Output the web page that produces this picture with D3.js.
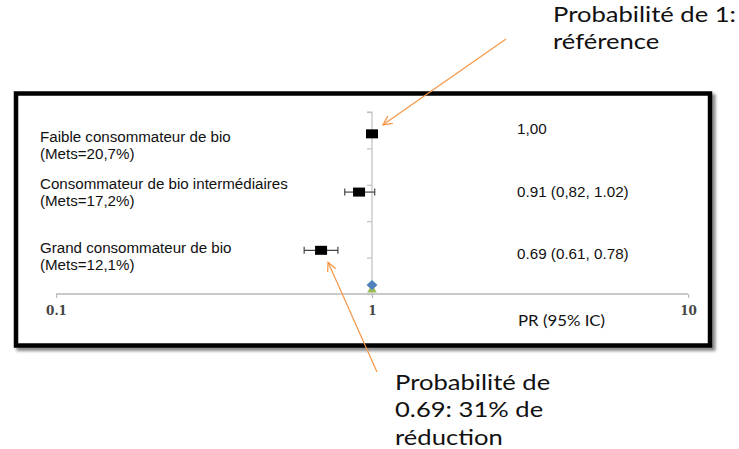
<!DOCTYPE html>
<html>
<head>
<meta charset="utf-8">
<script src="https://cdn.jsdelivr.net/npm/d3@7"></script>
<style>
  body { margin: 0; background: #fff; }
  svg { display: block; }
</style>
</head>
<body>
<svg id="chart"></svg>
<script>
var groups = ["Faible consommateur de bio", "Consommateur de bio intermédiaires", "Grand consommateur de bio"];
var mets = ["(Mets=20,7%)", "(Mets=17,2%)", "(Mets=12,1%)"];
var pr = [1.00, 0.91, 0.69];
var ciLow = [null, 0.82, 0.61];
var ciHigh = [null, 1.02, 0.78];
var rowPos = [4.4, 2.8, 1.2];
var prLabels = ["1,00", "0.91 (0,82, 1.02)", "0.69 (0.61, 0.78)"];
var xTicks = [0.1, 1, 10];
var refPoint = {x: 1, diamond: 0.25, triangle: 0.12};

var width = 739, height = 449;
var orange = "#f79646";

var svg = d3.select('#chart')
	.attr('width', width)
	.attr('height', height);

var defs = svg.append('defs');
var shadow = defs.append('filter').attr('id', 'shadow')
	.attr('x', '-5%').attr('y', '-5%').attr('width', '110%').attr('height', '115%');
shadow.append('feGaussianBlur').attr('stdDeviation', 1.5);

defs.append('marker')
	.attr('id', 'arrow')
	.attr('viewBox', '0 0 10 10')
	.attr('refX', 9).attr('refY', 5)
	.attr('markerWidth', 10).attr('markerHeight', 10)
	.attr('markerUnits', 'userSpaceOnUse')
	.attr('orient', 'auto')
	.append('path')
	.attr('d', 'M0,0.5 L9,5 L0,9.5')
	.attr('fill', 'none')
	.attr('stroke', orange)
	.attr('stroke-width', 1.3);

// the picture's text is stretched sideways, so scale it in x only
function stretched(x, sx){
	return svg.append('g')
		.attr('transform', 'translate(' + x + ',0) scale(' + sx + ',1)')
		.append('text').attr('x', 0);
}

// frame with shadow
svg.append('rect')
	.attr('x', 19).attr('y', 96.5)
	.attr('width', 694).attr('height', 252)
	.attr('fill', 'none')
	.attr('stroke', '#888')
	.attr('stroke-width', 5)
	.attr('filter', 'url(#shadow)');
svg.append('rect')
	.attr('x', 16).attr('y', 93.5)
	.attr('width', 694).attr('height', 252)
	.attr('fill', '#fff')
	.attr('stroke', '#000')
	.attr('stroke-width', 4.5);

var xScale = d3.scaleLog()
	.domain([0.1, 10])
	.range([56, 688]);

var yScale = d3.scaleLinear()
	.domain([0, 5])
	.range([294, 112]);

// x axis
var xAxis = svg.append('g')
	.attr('transform', 'translate(0,' + yScale(0) + ')')
	.call(d3.axisBottom(xScale).tickValues(xTicks).tickSize(4).tickPadding(8)
		.tickFormat(function(d){ return d3.format('')(d); }));
xAxis.select('.domain').attr('stroke', '#b8b8b8').attr('stroke-width', 1.5)
	.attr('d', 'M' + xScale(0.1) + ',0H' + xScale(10));
xAxis.selectAll('.tick line').attr('stroke', '#b8b8b8').attr('stroke-width', 1.2);
xAxis.selectAll('.tick text')
	.attr('font-family', '"DejaVu Serif", serif')
	.attr('font-size', 12)
	.attr('font-weight', 'bold')
	.attr('fill', '#444');

// y axis through 1
var yAxis = svg.append('g')
	.attr('transform', 'translate(' + xScale(1) + ',0)')
	.call(d3.axisLeft(yScale).ticks(5).tickSize(5).tickFormat(''));
yAxis.select('.domain').attr('stroke', '#c0c0c0').attr('stroke-width', 1.2)
	.attr('d', 'M-5,' + yScale(5) + 'H0V' + yScale(0));
yAxis.selectAll('.tick line').attr('stroke', '#c0c0c0').attr('stroke-width', 1.2);

// reference markers at 1
svg.append('path')
	.attr('d', d3.symbol().type(d3.symbolTriangle).size(40)())
	.attr('transform', 'translate(' + xScale(refPoint.x) + ',' + yScale(refPoint.triangle) + ')')
	.attr('fill', '#9bbb59');
svg.append('path')
	.attr('d', 'M0,-5 L5.5,0 L0,5 L-5.5,0 Z')
	.attr('transform', 'translate(' + xScale(refPoint.x) + ',' + yScale(refPoint.diamond) + ')')
	.attr('fill', '#4f81bd');

// error bars
var rows = svg.append('g').selectAll('g')
	.data(pr.map(function(d, i){ return {pr: d, lo: ciLow[i], hi: ciHigh[i], y: rowPos[i]}; }))
	.enter().append('g');

rows.filter(function(d){ return d.lo != null; }).each(function(d){
	var g = d3.select(this), y = yScale(d.y);
	g.append('line')
		.attr('x1', xScale(d.lo)).attr('x2', xScale(d.hi))
		.attr('y1', y).attr('y2', y)
		.attr('stroke', '#444').attr('stroke-width', 1.2);
	[d.lo, d.hi].forEach(function(v){
		g.append('line')
			.attr('x1', xScale(v)).attr('x2', xScale(v))
			.attr('y1', y - 3.5).attr('y2', y + 3.5)
			.attr('stroke', '#444').attr('stroke-width', 1.2);
	});
});

rows.append('rect')
	.attr('x', function(d){ return xScale(d.pr) - 6; })
	.attr('y', function(d){ return yScale(d.y) - 4.5; })
	.attr('width', 12)
	.attr('height', 9)
	.attr('fill', '#000');

// left labels
var labelY = [142, 189, 253];
groups.forEach(function(g, i){
	var t = stretched(40, 1.08)
		.attr('y', labelY[i])
		.attr('font-family', '"Liberation Sans", Arial, sans-serif')
		.attr('font-size', 14)
		.attr('fill', '#111');
	t.append('tspan').attr('x', 0).text(g);
	t.append('tspan').attr('x', 0).attr('dy', 17.5).text(mets[i]);
});

// PR values
var valueY = [134, 197, 259];
prLabels.forEach(function(s, i){
	stretched(517, 1.05)
		.attr('y', valueY[i])
		.attr('font-family', '"Liberation Sans", Arial, sans-serif')
		.attr('font-size', 14.5)
		.attr('fill', '#111')
		.text(s);
});

stretched(518, 1.16)
	.attr('y', 326)
	.attr('font-family', 'Lato, "Open Sans", sans-serif')
	.attr('font-size', 14.5)
	.attr('fill', '#111')
	.text('PR (95% IC)');

// annotations
function note(x, y, lines){
	var t = stretched(x, 1.22)
		.attr('font-family', 'Lato, "Open Sans", sans-serif')
		.attr('font-size', 21)
		.attr('fill', '#111');
	lines.forEach(function(l, i){
		t.append('tspan').attr('x', 0).attr('y', y + i * 27.5).text(l);
	});
}
note(553, 22, ["Probabilité de 1:", "référence"]);
note(395, 390, ["Probabilité de", "0.69: 31% de", "réduction"]);

svg.append('line')
	.attr('x1', 506).attr('y1', 39)
	.attr('x2', xScale(pr[0]) + 11).attr('y2', yScale(rowPos[0]) - 9)
	.attr('stroke', orange).attr('stroke-width', 1.2)
	.attr('marker-end', 'url(#arrow)');
svg.append('line')
	.attr('x1', 377).attr('y1', 372)
	.attr('x2', xScale(pr[2]) + 7).attr('y2', yScale(rowPos[2]) + 12)
	.attr('stroke', orange).attr('stroke-width', 1.2)
	.attr('marker-end', 'url(#arrow)');
</script>
</body>
</html>
